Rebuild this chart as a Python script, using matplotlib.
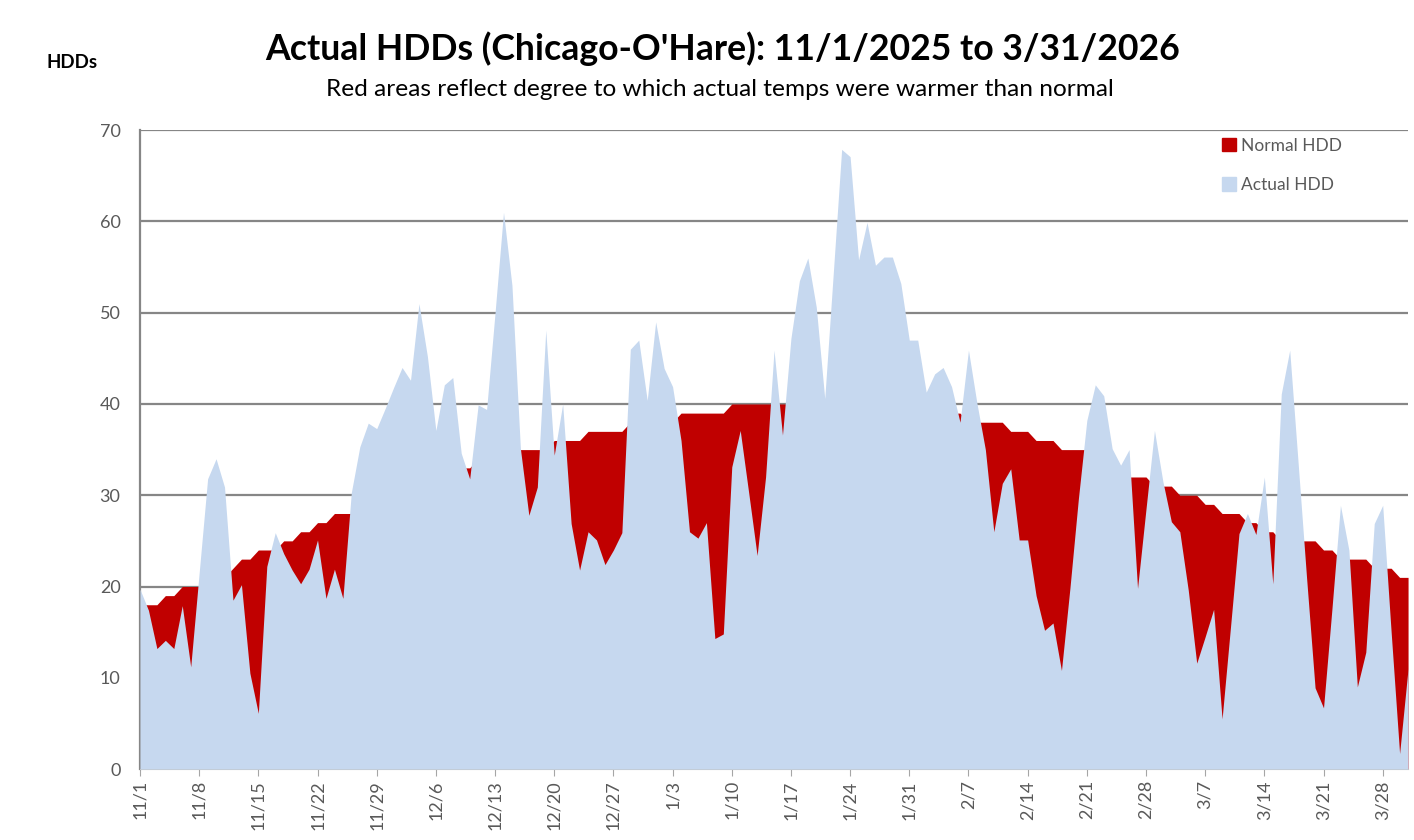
import matplotlib.pyplot as plt
from matplotlib.patches import Patch
import numpy as np
import pandas as pd

# daily values, 11/1/2025 .. 3/31/2026
start_date = '2025-11-01'
end_date = '2026-03-31'

actual_hdd = [
    19.7, 17.4, 13.2, 14.1, 13.2, 17.9, 11.2, 21.5, 31.8, 34.0,
    30.9, 18.5, 20.2, 10.5, 6.1, 22.2, 25.9, 23.6, 21.8, 20.3,
    21.9, 25.1, 18.7, 21.9, 18.7, 30.3, 35.3, 37.9, 37.3, 39.5,
    41.8, 44.0, 42.6, 51.0, 45.2, 37.1, 42.1, 42.9, 34.6, 31.8,
    39.9, 39.4, 50.0, 61.0, 53.0, 35.1, 27.8, 30.9, 48.1, 34.4,
    40.0, 26.9, 21.8, 26.0, 25.1, 22.4, 24.0, 25.9, 46.0, 47.0,
    40.4, 49.0, 43.9, 41.9, 36.0, 26.0, 25.3, 27.0, 14.3, 14.8,
    33.1, 37.1, 30.3, 23.4, 32.0, 45.9, 36.6, 47.2, 53.5, 56.0,
    50.6, 40.6, 54.2, 67.9, 67.1, 55.8, 59.9, 55.2, 56.1, 56.1,
    53.2, 47.0, 47.0, 41.3, 43.3, 44.0, 41.9, 38.0, 45.9, 40.1,
    35.0, 26.0, 31.3, 32.9, 25.1, 25.1, 19.0, 15.2, 16.0, 10.8,
    19.8, 29.6, 38.2, 42.1, 40.9, 35.1, 33.3, 35.0, 19.8, 28.5,
    37.1, 31.5, 27.1, 26.0, 19.6, 11.6, 14.5, 17.5, 5.5, 15.6,
    25.8, 28.0, 25.7, 32.0, 20.3, 41.1, 45.9, 33.5, 20.9, 8.9,
    6.7, 17.6, 28.9, 24.0, 9.0, 12.8, 26.9, 28.9, 15.0, 1.7,
    11.0,
]

normal_hdd = [
    18, 18, 18, 19, 19, 20, 20, 20, 21, 21,
    21, 22, 23, 23, 24, 24, 24, 25, 25, 26,
    26, 27, 27, 28, 28, 28, 29, 29, 29, 30,
    30, 30, 31, 31, 32, 32, 32, 33, 33, 33,
    34, 34, 34, 34, 35, 35, 35, 35, 35, 36,
    36, 36, 36, 37, 37, 37, 37, 37, 38, 38,
    38, 38, 38, 38, 39, 39, 39, 39, 39, 39,
    40, 40, 40, 40, 40, 40, 40, 40, 40, 40,
    40, 40, 40, 40, 40, 40, 40, 40, 40, 40,
    40, 40, 40, 40, 40, 40, 39, 39, 38, 38,
    38, 38, 38, 37, 37, 37, 36, 36, 36, 35,
    35, 35, 35, 34, 33, 33, 33, 32, 32, 32,
    31, 31, 31, 30, 30, 30, 29, 29, 28, 28,
    28, 27, 27, 26, 26, 25, 25, 25, 25, 25,
    24, 24, 23, 23, 23, 23, 22, 22, 22, 21,
    21,
]

dates = pd.date_range(start_date, end_date, freq='D')
tick_dates = dates[::7]
tick_labels = [f'{d.month}/{d.day}' for d in tick_dates]
y_ticks = [0, 10, 20, 30, 40, 50, 60, 70]

plt.rcParams['font.family'] = ['Lato', 'DejaVu Sans']

red = '#C00000'
blue = '#C6D8EF'
grey = '#595959'

fig = plt.figure(figsize=(14.14, 8.4), dpi=100)
ax = fig.add_axes([0.099, 0.0845, 0.8968, 0.7605])

x = np.arange(len(dates))
ax.fill_between(x, 0, normal_hdd, color=red, lw=0, zorder=2)
ax.fill_between(x, 0, actual_hdd, color=blue, lw=0, zorder=3)

ax.set_xlim(0, len(dates) - 1)
ax.set_ylim(0, 70)
ax.set_yticks(y_ticks)
ax.tick_params(axis='y', length=0, labelsize=13, labelcolor=grey, pad=14)
ax.set_xticks(x[::7])
ax.set_xticklabels(tick_labels, rotation=90)
ax.tick_params(axis='x', length=5, color='#a6a6a6', labelsize=13,
               labelcolor=grey, pad=3)

ax.grid(axis='y', color='#868686', lw=1.6, zorder=1)
ax.set_axisbelow(True)
for s in ['top', 'right']:
    ax.spines[s].set_visible(False)
ax.spines['left'].set_color('#868686')
ax.spines['left'].set_linewidth(1.6)
ax.spines['bottom'].set_color('#bfbfbf')

handles = [Patch(color=red, label='Normal HDD'),
           Patch(color=blue, label='Actual HDD')]
ax.legend(handles=handles, loc='upper left', bbox_to_anchor=(0.841, 1.013),
          frameon=False, handlelength=0.8, handleheight=0.8, handletextpad=0.3,
          labelspacing=1.35, labelcolor=grey, prop={'size': 12.5})

fig.text(0.511, 0.942, "Actual HDDs (Chicago-O'Hare): 11/1/2025 to 3/31/2026",
         ha='center', va='center', fontsize=25.7, fontweight='bold')
fig.text(0.509, 0.894, 'Red areas reflect degree to which actual temps were warmer than normal',
         ha='center', va='center', fontsize=17.6)
fig.text(0.051, 0.926, 'HDDs', ha='center', va='center', fontsize=13.5, fontweight='bold')

fig.savefig('out.png', dpi=100)
